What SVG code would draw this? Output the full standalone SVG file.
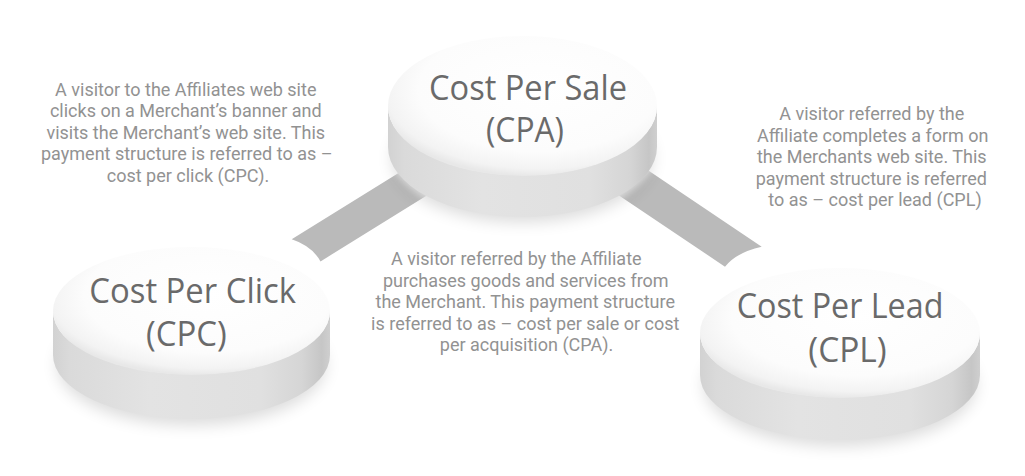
<svg xmlns="http://www.w3.org/2000/svg" width="1025" height="476" viewBox="0 0 1025 476">
  <defs>
    <linearGradient id="side" x1="0" y1="0" x2="1" y2="0">
      <stop offset="0" stop-color="#d2d2d2"/>
      <stop offset="0.06" stop-color="#dadada"/>
      <stop offset="0.35" stop-color="#e3e3e3"/>
      <stop offset="0.75" stop-color="#e0e0e0"/>
      <stop offset="0.9" stop-color="#d5d5d5"/>
      <stop offset="0.97" stop-color="#c6c6c6"/>
      <stop offset="1" stop-color="#cfcfcf"/>
    </linearGradient>
    <radialGradient id="top" cx="0.56" cy="0.38" r="0.62">
      <stop offset="0" stop-color="#ffffff"/>
      <stop offset="0.72" stop-color="#fcfcfc"/>
      <stop offset="0.92" stop-color="#f3f3f3"/>
      <stop offset="1" stop-color="#e8e8e8"/>
    </radialGradient>
    <filter id="blurS" x="-30%" y="-30%" width="160%" height="160%">
      <feGaussianBlur stdDeviation="8"/>
    </filter>
    <filter id="blurH" x="-30%" y="-30%" width="160%" height="160%">
      <feGaussianBlur stdDeviation="4"/>
    </filter>
    <style>
      .band { fill: #bababa; }
      .halo { fill: #ffffff; filter: url(#blurH); }
      .shadow { fill: #000000; opacity: 0.14; filter: url(#blurS); }
      .side { fill: url(#side); }
      .face { fill: url(#top); }
      .title { font-family: "Open Sans", "Noto Sans", "Liberation Sans", sans-serif; font-size: 34px; fill: #6a6a6a; }
      .desc { font-family: Roboto, "Liberation Sans", sans-serif; font-size: 18px; fill: #929292; text-anchor: middle; }
    </style>
  </defs>
  <rect width="1025" height="476" fill="#ffffff"/>

  <g id="connectors">
    <path class="band" d="M 291.7,239.3 L 455,138.1 L 455,178 L 320.5,261.4 Q 312,246 291.7,239.3 Z"/>
    <path class="band" d="M 590,131.3 L 761.7,246.7 Q 736.7,252.2 725,266.7 L 590,175.9 Z"/>
  </g>

  <g id="node-cpa">
    <ellipse class="halo" cx="522.5" cy="127" rx="142" ry="98"/>
    <ellipse class="shadow" cx="522.5" cy="158" rx="130" ry="64"/>
    <path class="side" d="M 388,106 L 388,147 A 134.5 70 0 0 0 657,147 L 657,106 A 134.5 70 0 0 1 388,106 Z"/>
    <ellipse class="face" cx="522.5" cy="106" rx="134.5" ry="70"/>
    <text class="title" x="429" y="100" textLength="198" lengthAdjust="spacingAndGlyphs">Cost Per Sale</text>
    <text class="title" x="486" y="142" textLength="78" lengthAdjust="spacingAndGlyphs">(CPA)</text>
  </g>

  <g id="node-cpc">
    <ellipse class="halo" cx="191.5" cy="333" rx="146" ry="92"/>
    <ellipse class="shadow" cx="191.5" cy="365" rx="134" ry="60"/>
    <path class="side" d="M 53,311 L 53,355 A 138.5 64 0 0 0 330,355 L 330,311 A 138.5 64 0 0 1 53,311 Z"/>
    <ellipse class="face" cx="191.5" cy="311" rx="138.5" ry="64"/>
    <text class="title" x="89.3" y="303" textLength="206.7" lengthAdjust="spacingAndGlyphs">Cost Per Click</text>
    <text class="title" x="146" y="346" textLength="80.7" lengthAdjust="spacingAndGlyphs">(CPC)</text>
  </g>

  <g id="node-cpl">
    <ellipse class="halo" cx="840" cy="354" rx="148" ry="93"/>
    <ellipse class="shadow" cx="840" cy="385" rx="136" ry="61"/>
    <path class="side" d="M 700,333 L 700,375 A 140 65 0 0 0 980,375 L 980,333 A 140 65 0 0 1 700,333 Z"/>
    <ellipse class="face" cx="840" cy="333" rx="140" ry="65"/>
    <text class="title" x="736.7" y="318" textLength="206.7" lengthAdjust="spacingAndGlyphs">Cost Per Lead</text>
    <text class="title" x="808.3" y="361.5" textLength="78.4" lengthAdjust="spacingAndGlyphs">(CPL)</text>
  </g>

  <g id="desc-cpc">
    <text class="desc">
      <tspan x="188" y="95.5">A visitor to the Affiliates web site</tspan>
      <tspan x="188" y="117">clicks on a Merchant’s banner and</tspan>
      <tspan x="188" y="138.5">visits the Merchant’s web site. This</tspan>
      <tspan x="189" y="160">payment structure is referred to as –</tspan>
      <tspan x="188" y="181.5">cost per click (CPC).</tspan>
    </text>
  </g>

  <g id="desc-cpa">
    <text class="desc">
      <tspan x="518.5" y="265">A visitor referred by the Affiliate</tspan>
      <tspan x="528" y="286.5">purchases goods and services from</tspan>
      <tspan x="527.5" y="308">the Merchant. This payment structure</tspan>
      <tspan x="527.5" y="329.5">is referred to as – cost per sale or cost</tspan>
      <tspan x="526.5" y="351">per acquisition (CPA).</tspan>
    </text>
  </g>

  <g id="desc-cpl">
    <text class="desc">
      <tspan x="874" y="120">A visitor referred by the</tspan>
      <tspan x="875" y="141.5">Affiliate completes a form on</tspan>
      <tspan x="874" y="163">the Merchants web site. This</tspan>
      <tspan x="873.5" y="184.5">payment structure is referred</tspan>
      <tspan x="875" y="206">to as – cost per lead (CPL)</tspan>
    </text>
  </g>
</svg>
